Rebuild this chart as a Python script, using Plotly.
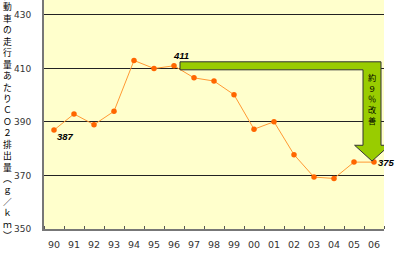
import plotly.graph_objects as go

years = ["90","91","92","93","94","95","96","97","98","99","00","01","02","03","04","05","06"]
co2 = [387, 393, 389, 394, 413, 410, 411, 406.5, 405.3, 400.2, 387.3, 390.1, 377.8, 369.4, 368.9, 375, 375]
y_ticks = [350, 370, 390, 410, 430]
y_title = "自動車の走行量あたりＣＯ２排出量︵ｇ／ｋｍ︶"
arrow_text = "約９％改善"
labelled = [0, 6, 16]

xs = list(range(len(years)))
fig = go.Figure()
fig.add_trace(go.Scatter(
    x=xs, y=co2, mode="lines+markers",
    line=dict(color="#FF9933", width=1),
    marker=dict(color="#FF6600", size=5.5),
    cliponaxis=False, showlegend=False))

# arrow shape derived from data (start at 96, end at 06)
s, e = labelled[1], labelled[2]
yt = co2[s]
x0 = s + 0.3
xl, xr = e - 0.55, e + 0.35
hl, hr = e - 0.97, e + 0.78
tipx = e - 0.1
top, bot = yt + 1.5, yt - 1.5
neck = co2[e] + 6.3
tip = co2[e] + 0.4
path = (f"M {x0},{top} L {xr},{top} L {xr},{neck} L {hr},{neck} L {tipx},{tip} "
        f"L {hl},{neck} L {xl},{neck} L {xl},{bot} L {x0},{bot} Z")
fig.add_shape(type="path", path=path, xref="x", yref="y",
              fillcolor="#99CC00", line=dict(color="#333333", width=1), layer="above")

fig.add_annotation(x=tipx, y=(top + neck) / 2 + 2, xref="x", yref="y",
                   text="<br>".join(arrow_text), showarrow=False,
                   font=dict(size=8.2, color="#000000", family="Noto Sans CJK JP"))

offsets = {0: (11, -6), 6: (7, 10), 16: (12, 0)}
for i in labelled:
    dx, dy = offsets[i]
    fig.add_annotation(x=i, y=co2[i], xref="x", yref="y", text=f"<b><i>{co2[i]:.0f}</i></b>",
                       showarrow=False, xshift=dx, yshift=dy,
                       font=dict(size=9.5, color="#000000", family="Liberation Sans"))

fig.add_annotation(x=-0.106, y=1.055, xref="paper", yref="paper",
                   text="<br>".join(y_title), showarrow=False, xanchor="center", yanchor="top",
                   font=dict(size=8.8, color="#000000", family="Noto Sans CJK JP"))

fig.update_xaxes(range=[-0.5, 16.5], tickmode="array", tickvals=xs, ticktext=years,
                 ticks="", showgrid=False, zeroline=False,
                 showline=True, linecolor="#777777", linewidth=2,
                 ticklabelstandoff=6,
                 minor=dict(tick0=-0.5, dtick=1, ticks="inside", ticklen=3, tickcolor="#555555", tickwidth=1, showgrid=False),
                 tickfont=dict(size=9.5, color="#333333", family="DejaVu Sans"))
fig.update_yaxes(range=[350, 435.6], tickmode="array", tickvals=y_ticks, ticks="",
                 showgrid=True, gridcolor="#222222", gridwidth=1, zeroline=False,
                 showline=True, linecolor="#777777", linewidth=2,
                 ticklabelstandoff=9,
                 tickfont=dict(size=9, color="#333333", family="DejaVu Sans"))
fig.update_layout(width=400, height=267, margin=dict(l=44, r=16, t=0, b=38),
                  plot_bgcolor="#FFFFCC", paper_bgcolor="#FFFFFF")
fig.write_html("out.html")
